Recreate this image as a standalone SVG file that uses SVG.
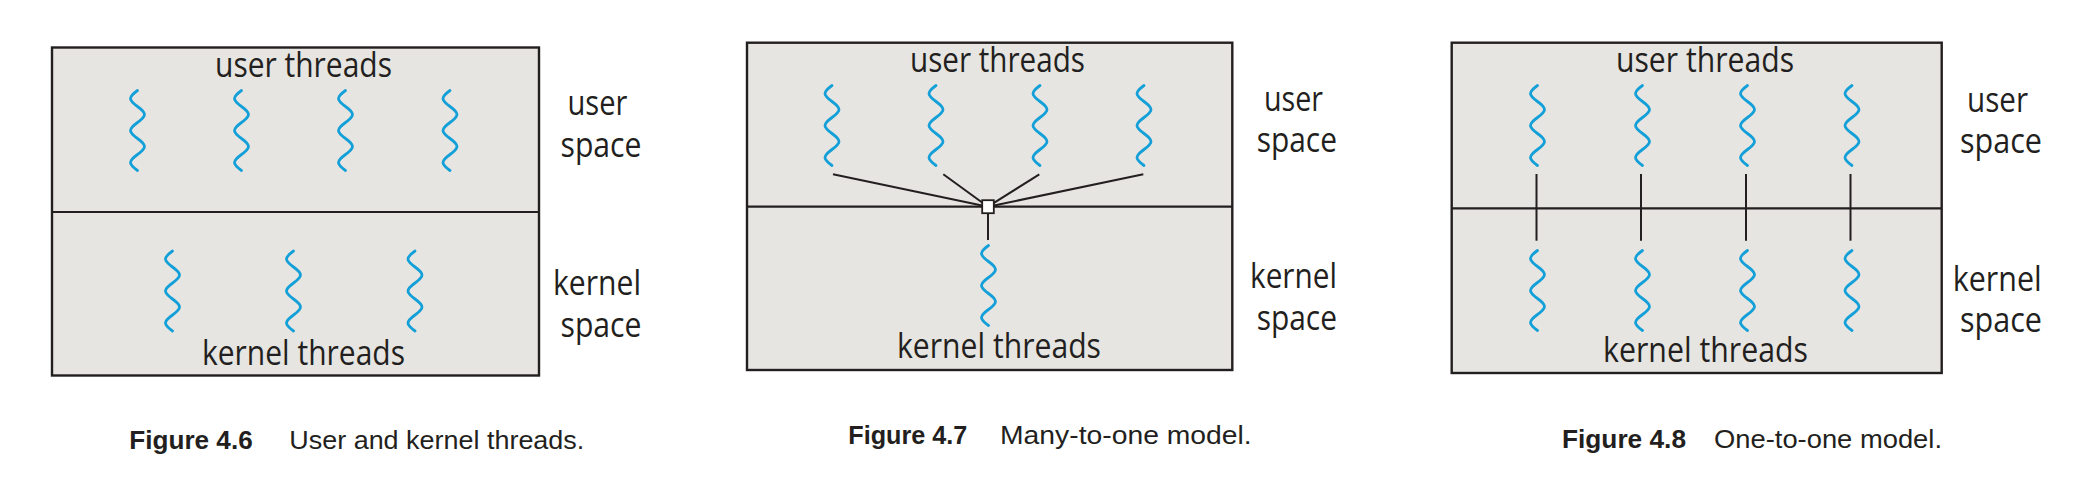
<svg xmlns="http://www.w3.org/2000/svg" xmlns:xlink="http://www.w3.org/1999/xlink" width="2076" height="484" viewBox="0 0 2076 484">
<style>
.box{fill:#e6e5e1;stroke:#231f20;stroke-width:2.4}
.div{stroke:#231f20;stroke-width:2.2;fill:none}
.w{fill:none;stroke:#13a0d8;stroke-width:2.8;stroke-linecap:round}
.conn{stroke:#231f20;stroke-width:2}
.t{font-family:"Open Sans","Noto Sans",sans-serif;font-size:34px;fill:#231f20}
.cap{font-family:"Liberation Sans",Arial,sans-serif;font-size:26px;fill:#231f20}
.b{font-weight:bold}
</style>
<defs>
<path id="wave" class="w" d="M0,0 C-3.586,2.609 -7,5.105 -7,8 C-7,10.895 -3.586,13.391 0,16 C3.586,18.609 7,21.105 7,24 C7,26.895 3.586,29.391 0,32 C-3.586,34.609 -7,37.105 -7,40 C-7,42.895 -3.586,45.391 0,48 C3.586,50.609 7,53.105 7,56 C7,58.895 3.586,61.391 0,64 C-3.586,66.609 -7,69.105 -7,72 C-7,74.895 -3.586,77.391 0,80"/>
</defs>
<rect width="2076" height="484" fill="#ffffff"/>

<!-- Figure 4.6 -->
<g id="fig46">
  <g id="fig46-box">
    <rect class="box" x="52" y="47.5" width="487" height="328"/>
    <line class="div" x1="52" y1="212" x2="539" y2="212"/>
  </g>
  <g id="fig46-user-threads">
    <text class="t" x="215" y="77.3" textLength="177" lengthAdjust="spacingAndGlyphs">user threads</text>
    <use xlink:href="#wave" x="137.5" y="90.5"/>
    <use xlink:href="#wave" x="241.5" y="90.5"/>
    <use xlink:href="#wave" x="345.5" y="90.5"/>
    <use xlink:href="#wave" x="450" y="90.5"/>
  </g>
  <g id="fig46-kernel-threads">
    <use xlink:href="#wave" x="172.5" y="251"/>
    <use xlink:href="#wave" x="293.5" y="251"/>
    <use xlink:href="#wave" x="415" y="251"/>
    <text class="t" x="202" y="365" textLength="203" lengthAdjust="spacingAndGlyphs">kernel threads</text>
  </g>
  <g id="fig46-user-space">
    <text class="t" x="567.5" y="115" textLength="60" lengthAdjust="spacingAndGlyphs">user</text>
    <text class="t" x="560.5" y="157" textLength="81" lengthAdjust="spacingAndGlyphs">space</text>
  </g>
  <g id="fig46-kernel-space">
    <text class="t" x="553" y="295" textLength="88" lengthAdjust="spacingAndGlyphs">kernel</text>
    <text class="t" x="560.5" y="337" textLength="81" lengthAdjust="spacingAndGlyphs">space</text>
  </g>
  <g id="fig46-caption">
    <text class="cap b" x="129.3" y="449.3" textLength="123.4" lengthAdjust="spacingAndGlyphs">Figure 4.6</text>
    <text class="cap" x="289.3" y="449.3" textLength="295" lengthAdjust="spacingAndGlyphs">User and kernel threads.</text>
  </g>
</g>

<!-- Figure 4.7 -->
<g id="fig47">
  <g id="fig47-box">
    <rect class="box" x="747" y="42.7" width="485.3" height="327.3"/>
    <line class="div" x1="747" y1="206.7" x2="1232.3" y2="206.7"/>
  </g>
  <g id="fig47-user-threads">
    <text class="t" x="910" y="71.7" textLength="175" lengthAdjust="spacingAndGlyphs">user threads</text>
    <use xlink:href="#wave" x="832" y="85.5"/>
    <use xlink:href="#wave" x="936" y="85.5"/>
    <use xlink:href="#wave" x="1040" y="85.5"/>
    <use xlink:href="#wave" x="1144" y="85.5"/>
  </g>
  <g id="fig47-kernel-threads">
    <use xlink:href="#wave" x="988.5" y="245.5"/>
    <text class="t" x="897" y="358" textLength="204" lengthAdjust="spacingAndGlyphs">kernel threads</text>
  </g>
  <g id="fig47-user-space">
    <text class="t" x="1264" y="111" textLength="59" lengthAdjust="spacingAndGlyphs">user</text>
    <text class="t" x="1256.7" y="151.7" textLength="80.3" lengthAdjust="spacingAndGlyphs">space</text>
  </g>
  <g id="fig47-kernel-space">
    <text class="t" x="1250" y="288.3" textLength="87" lengthAdjust="spacingAndGlyphs">kernel</text>
    <text class="t" x="1256.7" y="330" textLength="80.3" lengthAdjust="spacingAndGlyphs">space</text>
  </g>
  <g id="fig47-caption">
    <text class="cap b" x="848.3" y="444.3" textLength="119" lengthAdjust="spacingAndGlyphs">Figure 4.7</text>
    <text class="cap" x="1000" y="444.3" textLength="251.7" lengthAdjust="spacingAndGlyphs">Many-to-one model.</text>
  </g>
</g>

<!-- Figure 4.8 -->
<g id="fig48">
  <g id="fig48-box">
    <rect class="box" x="1451.7" y="42.7" width="490" height="330.3"/>
    <line class="div" x1="1451.7" y1="208.3" x2="1941.7" y2="208.3"/>
  </g>
  <g id="fig48-user-threads">
    <text class="t" x="1616" y="72" textLength="178" lengthAdjust="spacingAndGlyphs">user threads</text>
    <use xlink:href="#wave" x="1537.5" y="85.5"/>
    <use xlink:href="#wave" x="1642.5" y="85.5"/>
    <use xlink:href="#wave" x="1747.5" y="85.5"/>
    <use xlink:href="#wave" x="1852" y="85.5"/>
  </g>
  <g id="fig48-kernel-threads">
    <use xlink:href="#wave" x="1537.5" y="250.5"/>
    <use xlink:href="#wave" x="1642.5" y="250.5"/>
    <use xlink:href="#wave" x="1747.5" y="250.5"/>
    <use xlink:href="#wave" x="1852" y="250.5"/>
    <text class="t" x="1603" y="361.7" textLength="205" lengthAdjust="spacingAndGlyphs">kernel threads</text>
  </g>
  <g id="fig48-user-space">
    <text class="t" x="1967" y="111.7" textLength="61" lengthAdjust="spacingAndGlyphs">user</text>
    <text class="t" x="1960" y="153" textLength="82" lengthAdjust="spacingAndGlyphs">space</text>
  </g>
  <g id="fig48-kernel-space">
    <text class="t" x="1952.7" y="290.7" textLength="89" lengthAdjust="spacingAndGlyphs">kernel</text>
    <text class="t" x="1960" y="331.7" textLength="82" lengthAdjust="spacingAndGlyphs">space</text>
  </g>
  <g id="fig48-caption">
    <text class="cap b" x="1562" y="448.3" textLength="124" lengthAdjust="spacingAndGlyphs">Figure 4.8</text>
    <text class="cap" x="1714" y="448.3" textLength="228" lengthAdjust="spacingAndGlyphs">One-to-one model.</text>
  </g>
</g>

<!-- Connectors -->
<g id="connectors">
  <line class="conn" x1="833" y1="174.3" x2="988" y2="206.7"/>
  <line class="conn" x1="943.3" y1="174.3" x2="988" y2="206.7"/>
  <line class="conn" x1="1039.3" y1="174.3" x2="988" y2="206.7"/>
  <line class="conn" x1="1143.3" y1="174.3" x2="988" y2="206.7"/>
  <line class="conn" x1="988" y1="213" x2="988" y2="240"/>
  <line class="conn" x1="1536.5" y1="174" x2="1536.5" y2="240.7"/>
  <line class="conn" x1="1641" y1="174" x2="1641" y2="240.7"/>
  <line class="conn" x1="1746" y1="174" x2="1746" y2="240.7"/>
  <line class="conn" x1="1850.5" y1="174" x2="1850.5" y2="240.7"/>
</g>

<!-- Junction (many-to-one) -->
<g id="fig47-junction">
  <rect x="982.2" y="200.2" width="11.6" height="13" fill="#ffffff" stroke="#231f20" stroke-width="1.8"/>
</g>
</svg>
